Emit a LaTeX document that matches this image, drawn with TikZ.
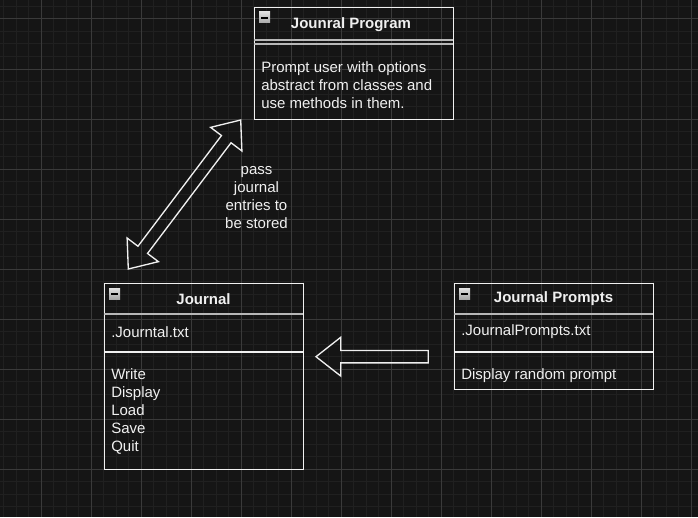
\documentclass[tikz,border=0pt]{standalone}
\usepackage{fontspec}
\setmainfont{Liberation Sans}
\definecolor{bgc}{HTML}{151515}
\definecolor{minorc}{HTML}{202020}
\definecolor{majorc}{HTML}{3A3A3A}
\definecolor{fg}{HTML}{F0F0F0}
\definecolor{hdr}{HTML}{B8B8B8}
\definecolor{icotop}{HTML}{E0E0E0}
\definecolor{icobot}{HTML}{A8A8A8}
\begin{document}
\begin{tikzpicture}[x=0.75pt,y=-0.75pt,
  ln/.style={draw=fg, line width=1pt},
  hdrln/.style={draw=hdr, line width=1.3pt},
  box/.style={draw=fg, line width=1pt, minimum width=149.25pt, anchor=north west, inner sep=0pt},
  ttl/.style={text=fg, font=\fontsize{11.25}{13.5}\selectfont\bfseries, inner sep=0pt},
  txt/.style={text=fg, font=\fontsize{11.25}{13.5}\selectfont, align=left, anchor=west, inner sep=0pt},
  lbl/.style={text=fg, font=\fontsize{11.25}{13.5}\selectfont, align=center, inner sep=0pt},
  minorln/.style={draw=minorc, line width=0.75pt},
  majorln/.style={draw=majorc, line width=0.75pt},
  blockarrow/.style={draw=fg, line width=1pt, line join=miter}]
\fill[bgc] (0,0) rectangle (698,517);
\useasboundingbox (0,0) rectangle (698,517);
\begin{scope}
\clip (0,0) rectangle (698,517);
\foreach \i in {0,...,56} \draw[minorln] ({3.5+12.5*\i},0) -- ({3.5+12.5*\i},517);
\foreach \j in {0,...,41} \draw[minorln] (0,{6.5+12.5*\j}) -- (698,{6.5+12.5*\j});
\foreach \i in {0,...,13} \draw[majorln] ({41+50*\i},0) -- ({41+50*\i},517);
\foreach \j in {0,...,9} \draw[majorln] (0,{19+50*\j}) -- (698,{19+50*\j});
\end{scope}

% Journal Program
\node[box, minimum height=84pt] (prog) at (254,7) {};
\draw[hdrln] (254,40) -- (453,40);
\draw[hdrln] (254,44) -- (453,44);
\node[ttl] (progt) at (351,25) {Jounral Program};
\node[txt] (progb) at (261,85.5) {Prompt user with options\\abstract from classes and\\use methods in them.};
\shade[top color=icotop, bottom color=icobot] (259,12) rectangle (270,23);
\fill[black] (261,17.2) rectangle (268,18.8);

% Journal
\node[box, minimum height=139.5pt] (jour) at (104,283) {};
\draw[hdrln] (104,314) -- (303,314);
\draw[ln] (104,352) -- (303,352);
\node[ttl] (jourt) at (203.5,299) {Journal};
\node[txt] (jourf) at (111,332) {.Journtal.txt};
\node[txt] (jourm) at (111,411) {Write\\Display\\Load\\Save\\Quit};
\shade[top color=icotop, bottom color=icobot] (109,288) rectangle (120,299);
\fill[black] (111,293.2) rectangle (118,294.8);

% Journal Prompts
\node[box, minimum height=79.5pt] (prm) at (454,283) {};
\draw[hdrln] (454,314) -- (653,314);
\draw[ln] (454,352) -- (653,352);
\node[ttl] (prmt) at (553.5,299) {Journal Prompts};
\node[txt] (prmf) at (461,332) {.JournalPrompts.txt};
\node[txt] (prmm) at (461,375.5) {Display random prompt};
\shade[top color=icotop, bottom color=icobot] (459,288) rectangle (470,299);
\fill[black] (461,293.2) rectangle (468,294.8);

% double arrow between Journal and Program
\coordinate (tipup) at (240.7,120);
\coordinate (tipdown) at (128.3,269);
\draw[blockarrow] (tipup) -- (241.9,150.97) -- (231.04,142.77) -- (147.55,253.45)
  -- (158.41,261.65) -- (tipdown) -- (127.11,238.03) -- (137.97,246.23)
  -- (221.46,135.55) -- (210.6,127.35) -- cycle;
\node[lbl] (pass) at (256.5,197.5) {pass\\journal\\entries to\\be stored};

% block arrow from Prompts to Journal
\coordinate (tipleft) at (316,356.7);
\draw[blockarrow] (tipleft) -- (340.7,337.3) -- (340.7,350.5) -- (428.3,350.5)
  -- (428.3,362.9) -- (340.7,362.9) -- (340.7,376) -- cycle;
\end{tikzpicture}
\end{document}
